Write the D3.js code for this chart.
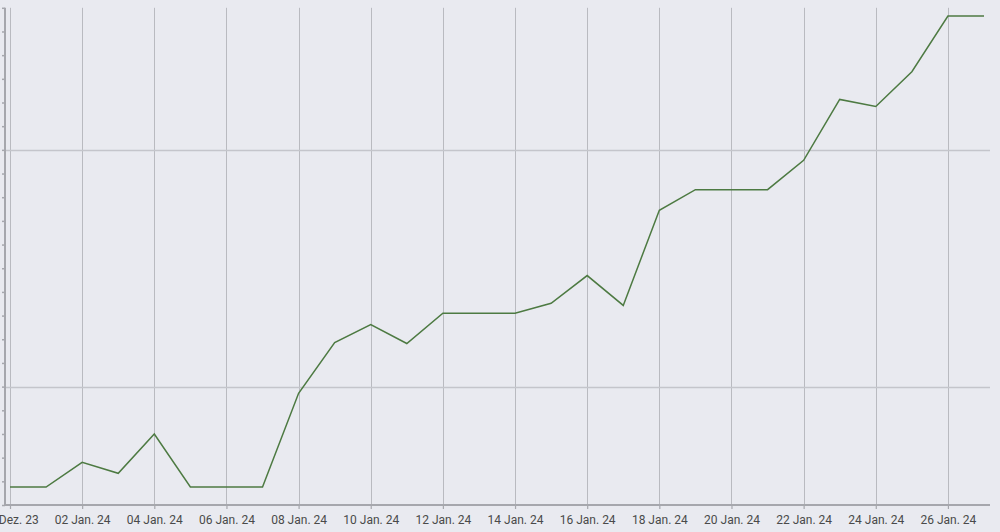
<!DOCTYPE html>
<html>
<head>
<meta charset="utf-8">
<script src="https://cdn.jsdelivr.net/npm/d3@7"></script>
<style>
  html, body { margin: 0; padding: 0; background: #e9eaf0; }
  svg { display: block; }
</style>
</head>
<body>
<svg id="chart" width="1000" height="532"></svg>
<script>
// ---- data ----
const dates = [
  "2023-12-31","2024-01-01","2024-01-02","2024-01-03","2024-01-04","2024-01-05","2024-01-06",
  "2024-01-07","2024-01-08","2024-01-09","2024-01-10","2024-01-11","2024-01-12","2024-01-13",
  "2024-01-14","2024-01-15","2024-01-16","2024-01-17","2024-01-18","2024-01-19","2024-01-20",
  "2024-01-21","2024-01-22","2024-01-23","2024-01-24","2024-01-25","2024-01-26","2024-01-27"
];
const values = [
  95.76, 95.76, 96.80, 96.34, 98.00, 95.76, 95.76,
  95.76, 99.72, 101.86, 102.62, 101.82, 103.10, 103.10,
  103.10, 103.52, 104.69, 103.43, 107.45, 108.32, 108.32,
  108.32, 109.56, 112.13, 111.83, 113.30, 115.65, 115.65
];
const tickDates = [
  "2023-12-31","2024-01-02","2024-01-04","2024-01-06","2024-01-08","2024-01-10","2024-01-12",
  "2024-01-14","2024-01-16","2024-01-18","2024-01-20","2024-01-22","2024-01-24","2024-01-26"
];
const tickLabels = [
  "31 Dez. 23","02 Jan. 24","04 Jan. 24","06 Jan. 24","08 Jan. 24","10 Jan. 24","12 Jan. 24",
  "14 Jan. 24","16 Jan. 24","18 Jan. 24","20 Jan. 24","22 Jan. 24","24 Jan. 24","26 Jan. 24"
];
const yMinorTicks = d3.range(95, 117, 1);
const yMajorTicks = [100, 110];
const yDomain = [95, 116];

// ---- layout ----
const parse = d3.utcParse("%Y-%m-%d");
const data = dates.map((d, i) => ({ date: parse(d), value: values[i] }));
const tDates = tickDates.map(parse);

const svg = d3.select("#chart");
const axisX = 5, plotRight = 990, plotTop = 7.8, plotBottom = 505;

const x = d3.scaleUtc()
  .domain([parse("2023-12-31"), parse("2024-01-27")])
  .range([10, 984]);
const y = d3.scaleLinear().domain(yDomain).range([plotBottom, plotTop]);

svg.append("rect").attr("width", 1000).attr("height", 532).attr("fill", "#e9eaf0");

// vertical grid
svg.append("g").selectAll("line").data(tDates).join("line")
  .attr("x1", d => Math.round(x(d)) + 0.5).attr("x2", d => Math.round(x(d)) + 0.5)
  .attr("y1", plotTop).attr("y2", plotBottom)
  .attr("stroke", "#b9bac0").attr("stroke-width", 1);

// horizontal grid
svg.append("g").selectAll("line").data(yMajorTicks).join("line")
  .attr("x1", axisX).attr("x2", plotRight)
  .attr("y1", d => Math.round(y(d)) + 0.5).attr("y2", d => Math.round(y(d)) + 0.5)
  .attr("stroke", "#c4c5cb").attr("stroke-width", 1.5);

// y axis (no labels)
const yAxis = d3.axisLeft(y).tickValues(yMinorTicks).tickSize(3).tickFormat("");
const gy = svg.append("g").attr("transform", `translate(${axisX},0)`).call(yAxis);
gy.select(".domain").attr("stroke", "#a6a7ad").attr("stroke-width", 2).attr("d", `M0,${plotTop}V${plotBottom}`);
gy.selectAll(".tick line").attr("stroke", "#a6a7ad").attr("stroke-width", 1.5);

// x axis
const xAxis = d3.axisBottom(x).tickValues(tDates).tickSize(4).tickPadding(6.5)
  .tickFormat((d, i) => tickLabels[i]);
const gx = svg.append("g").attr("transform", `translate(0,${plotBottom})`).call(xAxis);
gx.select(".domain").attr("stroke", "#a6a7ad").attr("stroke-width", 2).attr("d", `M${axisX},0H${plotRight}`);
gx.selectAll(".tick line").attr("stroke", "#a6a7ad").attr("stroke-width", 1.2);
gx.selectAll(".tick text")
  .attr("fill", "#4a4a4a")
  .style("font-family", "Roboto, 'Open Sans', sans-serif")
  .style("font-size", "12px");

// line
const line = d3.line().x(d => x(d.date)).y(d => y(d.value));
svg.append("path").datum(data)
  .attr("d", line)
  .attr("fill", "none")
  .attr("stroke", "#4d7a42")
  .attr("stroke-width", 1.5)
  .attr("stroke-linejoin", "miter");
</script>
</body>
</html>
